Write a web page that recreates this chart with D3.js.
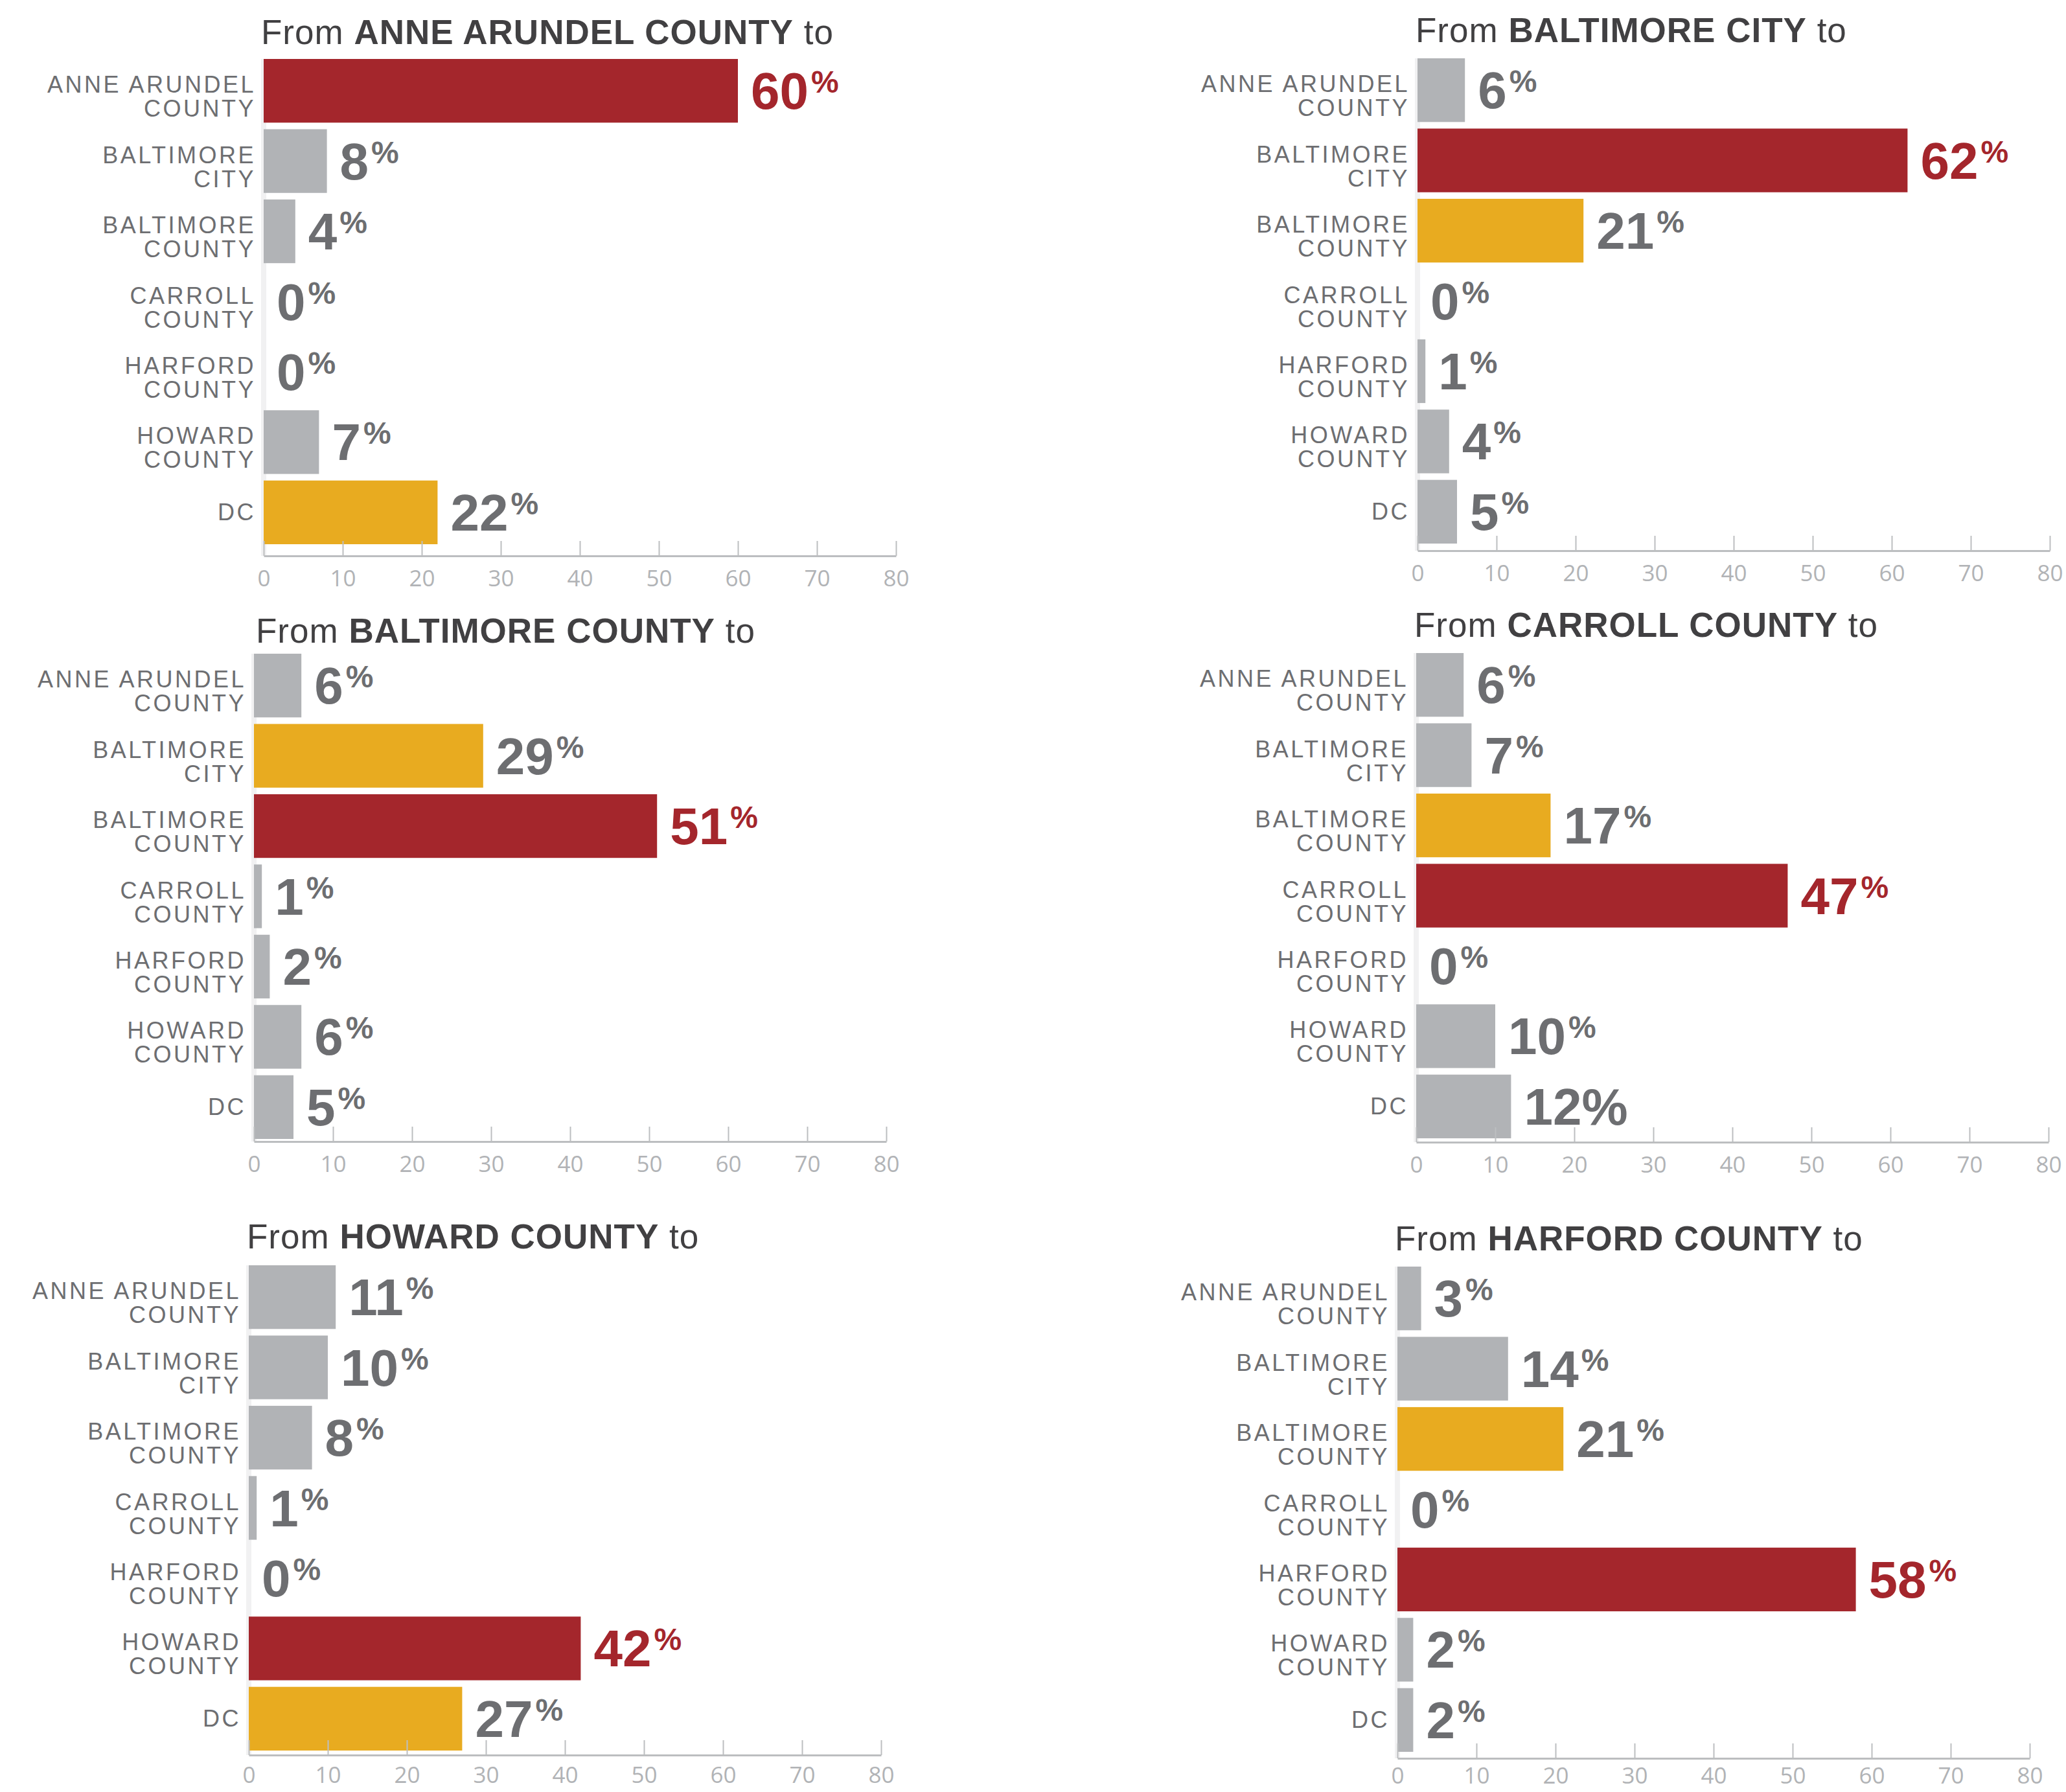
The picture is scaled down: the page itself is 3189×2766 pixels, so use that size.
<!DOCTYPE html>
<html>
<head>
<meta charset="utf-8">
<script src="https://cdn.jsdelivr.net/npm/d3@7"></script>
<style>
  body { margin: 0; background: #fff; }
  svg { display: block; }
  .title { font-family: "Liberation Sans", Arial, sans-serif; font-size: 53px; fill: #414042; letter-spacing: 1px; }
  .cat { font-family: "Liberation Sans", Arial, sans-serif; font-size: 36px; fill: #6d6e71; letter-spacing: 3.5px; }
  .val { font-family: "Liberation Sans", Arial, sans-serif; font-weight: bold; font-size: 80px; fill: #6d6e71; }
  .axis path, .axis line { stroke: #bcbec0; }
  .axis path { stroke-width: 3; }
  .axis line { stroke-width: 2; }
  .axis text { font-family: "Open Sans", sans-serif; font-size: 35px; fill: #b1b3b6; }
</style>
</head>
<body>
<svg id="chart"></svg>
<script>
// destinations, same order in every panel
const categories = ['ANNE ARUNDEL COUNTY', 'BALTIMORE CITY', 'BALTIMORE COUNTY', 'CARROLL COUNTY', 'HARFORD COUNTY', 'HOWARD COUNTY', 'DC']
const axisTicks = [0, 10, 20, 30, 40, 50, 60, 70, 80]

// share of commuters (%) going from the origin to each destination
const fromAnneArundel = [60, 8, 4, 0, 0, 7, 22]
const fromBaltimoreCity = [6, 62, 21, 0, 1, 4, 5]
const fromBaltimoreCounty = [6, 29, 51, 1, 2, 6, 5]
const fromCarroll = [6, 7, 17, 47, 0, 10, 12]
const fromHoward = [11, 10, 8, 1, 0, 42, 27]
const fromHarford = [3, 14, 21, 0, 58, 2, 2]

// the one label printed with a full-size percent sign
const plainPercent = [{ origin: 'CARROLL COUNTY', dest: 'DC' }]

const colors = { home: '#a4262c', second: '#e8ab20', other: '#b1b3b6', label: '#6d6e71' }

class FlowPanel {
    constructor(_config, _origin, _values) {
        this.config = {
            parent: _config.parent,
            x0: _config.x0,
            top: _config.top,
            axisY: _config.axisY,
            titleX: _config.titleX,
            titleY: _config.titleY,
            tickPadding: _config.tickPadding || 22,
            width: 976,
            step: 107,
            barHeight: 97
        }
        this.origin = _origin
        this.values = _values
        this.initVis()
    }

    initVis() {
        let vis = this
        let c = vis.config

        vis.g = c.parent.append('g')

        vis.xScale = d3.scaleLinear().domain([0, 80]).range([0, c.width])
        vis.yScale = d3.scaleBand()
            .domain(categories)
            .range([c.top, c.top + c.step * categories.length])
            .paddingInner(1 - c.barHeight / c.step)
            .paddingOuter(0)

        let title = vis.g.append('text')
            .attr('class', 'title')
            .attr('x', c.titleX)
            .attr('y', c.titleY)
        title.append('tspan').text('From ')
        title.append('tspan').attr('font-weight', 'bold').text(vis.origin)
        title.append('tspan').text(' to')

        // faint baseline behind the bars
        vis.g.append('rect')
            .attr('x', c.x0 - 4)
            .attr('y', c.top)
            .attr('width', 8)
            .attr('height', c.axisY - c.top)
            .attr('fill', '#f1f1f2')

        vis.renderVis()
    }

    renderVis() {
        let vis = this
        let c = vis.config
        let rows = categories.map((d, i) => ({ cat: d, v: vis.values[i] }))
        let second = d3.max(rows.filter(r => r.cat !== vis.origin), r => r.v)
        let fill = r => r.cat === vis.origin ? colors.home : (r.v === second ? colors.second : colors.other)

        vis.g.selectAll('.bar')
            .data(rows)
            .join('rect')
            .attr('class', 'bar')
            .attr('x', c.x0)
            .attr('y', r => vis.yScale(r.cat))
            .attr('width', r => vis.xScale(r.v))
            .attr('height', vis.yScale.bandwidth())
            .attr('fill', fill)

        let mid = r => vis.yScale(r.cat) + vis.yScale.bandwidth() / 2

        // category labels, last word on its own line
        let cats = vis.g.selectAll('.cat')
            .data(rows)
            .join('text')
            .attr('class', 'cat')
            .attr('text-anchor', 'end')
        cats.each(function(r) {
            let words = r.cat.split(' ')
            let t = d3.select(this)
            if (words.length === 1) {
                t.append('tspan').attr('x', c.x0 - 12).attr('y', mid(r) + 12).text(r.cat)
            } else {
                t.append('tspan').attr('x', c.x0 - 12).attr('y', mid(r) + 3).text(words.slice(0, -1).join(' '))
                t.append('tspan').attr('x', c.x0 - 12).attr('y', mid(r) + 40).text(words[words.length - 1])
            }
        })

        let vals = vis.g.selectAll('.val')
            .data(rows)
            .join('text')
            .attr('class', 'val')
            .attr('x', r => c.x0 + vis.xScale(r.v) + 20)
            .attr('y', r => mid(r) + 28)
            .style('fill', r => r.cat === vis.origin ? colors.home : colors.label)
        vals.each(function(r) {
            let t = d3.select(this)
            t.append('tspan').text(r.v)
            let plain = plainPercent.some(p => p.origin === vis.origin && p.dest === r.cat)
            if (plain) t.append('tspan').text('%')
            else t.append('tspan').attr('dy', -25).attr('dx', 4).attr('font-size', '48px').text('%')
        })

        let axis = d3.axisBottom(vis.xScale)
            .tickValues(axisTicks)
            .tickSizeInner(-23)
            .tickSizeOuter(0)
            .tickPadding(c.tickPadding)

        vis.g.append('g')
            .attr('class', 'axis')
            .attr('transform', `translate(${c.x0}, ${c.axisY})`)
            .call(axis)
    }
}

const svg = d3.select('#chart')
    .attr('width', 3189)
    .attr('height', 2766)

new FlowPanel({ parent: svg, x0: 407, top: 91, axisY: 858, titleX: 403, titleY: 68 }, 'ANNE ARUNDEL COUNTY', fromAnneArundel)
new FlowPanel({ parent: svg, x0: 2188, top: 90, axisY: 850, titleX: 2185, titleY: 65 }, 'BALTIMORE CITY', fromBaltimoreCity)
new FlowPanel({ parent: svg, x0: 392, top: 1009, axisY: 1762, titleX: 395, titleY: 992 }, 'BALTIMORE COUNTY', fromBaltimoreCounty)
new FlowPanel({ parent: svg, x0: 2186, top: 1008, axisY: 1763, titleX: 2183, titleY: 983 }, 'CARROLL COUNTY', fromCarroll)
new FlowPanel({ parent: svg, x0: 384, top: 1953, axisY: 2709, titleX: 381, titleY: 1927, tickPadding: 18 }, 'HOWARD COUNTY', fromHoward)
new FlowPanel({ parent: svg, x0: 2157, top: 1955, axisY: 2714, titleX: 2153, titleY: 1930, tickPadding: 14 }, 'HARFORD COUNTY', fromHarford)
</script>
</body>
</html>
